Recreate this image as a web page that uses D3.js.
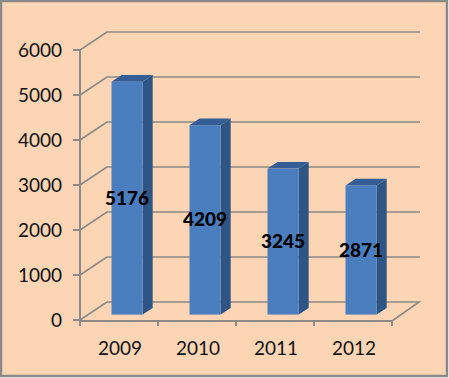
<!DOCTYPE html>
<html><head><meta charset="utf-8">
<script src="https://cdn.jsdelivr.net/npm/d3@7"></script>
<style>html,body{margin:0;padding:0;background:#fff;}svg{display:block;}</style>
</head><body>
<script>
const categories = ["2009","2010","2011","2012"];
const values = [5176, 4209, 3245, 2871];
const yTicks = [0,1000,2000,3000,4000,5000,6000];

const W = 449, H = 378;
const svg = d3.select("body").append("svg").attr("width", W).attr("height", H);
svg.append("rect").attr("x",1).attr("y",1).attr("width",W-3).attr("height",H-3)
  .attr("fill","#FCD5B5").attr("stroke","#8a8a8a").attr("stroke-width",2.5);

const DX = 27, DY = -18;
const y = d3.scaleLinear().domain([0,6000]).range([320,50]);
const x = d3.scaleBand().domain(categories).range([80,392]).paddingInner(0.6).paddingOuter(0.3);
const grid = "#8c8a88";
const font = "Lato, 'Liberation Sans', sans-serif";

yTicks.forEach(v => {
  const yy = y(v);
  if (v > 0) {
    svg.append("line").attr("x1",80+DX).attr("y1",yy+DY).attr("x2",420).attr("y2",yy+DY)
      .attr("stroke",grid).attr("stroke-width",1.6);
  }
  svg.append("line").attr("x1",80).attr("y1",yy).attr("x2",80+DX).attr("y2",yy+DY)
    .attr("stroke",grid).attr("stroke-width",1.6);
});
svg.append("path").attr("d",`M${80+DX},${y(0)+DY}L${392+DX},${y(0)+DY}L392,${y(0)+1}`)
  .attr("fill","none").attr("stroke",grid).attr("stroke-width",1.6);
svg.append("line").attr("x1",80).attr("y1",y(6000)).attr("x2",80).attr("y2",y(0)+1)
  .attr("stroke",grid).attr("stroke-width",2);
svg.append("line").attr("x1",80).attr("y1",y(0)+1).attr("x2",392).attr("y2",y(0)+1)
  .attr("stroke",grid).attr("stroke-width",2);
yTicks.forEach(v => {
  svg.append("line").attr("x1",73).attr("y1",y(v)).attr("x2",80).attr("y2",y(v))
    .attr("stroke",grid).attr("stroke-width",2);
  svg.append("text").attr("x",62).attr("y",y(v)+7).attr("text-anchor","end")
    .attr("font-family",font).attr("font-size",19).attr("fill","#111").text(v);
});
const step = x.step();
[80,80+step,80+2*step,80+3*step,392].forEach(t => {
  svg.append("line").attr("x1",t).attr("y1",y(0)).attr("x2",t).attr("y2",y(0)+6)
    .attr("stroke",grid).attr("stroke-width",2);
});
categories.forEach(c => {
  svg.append("text").attr("x",x(c)+x.bandwidth()/2+1).attr("y",355).attr("text-anchor","middle")
    .attr("font-family",font).attr("font-size",19).attr("fill","#111").text(c);
});

const t0 = 0.3, t1 = 0.67;
const fx = DX*t0, fy = DY*t0, bx = DX*t1, by = DY*t1;
categories.forEach((c,i) => {
  const v = values[i];
  const x0 = x(c)+fx, x1 = x(c)+x.bandwidth()+fx;
  const yt = y(v)+fy, yb = y(0)+fy;
  const sx = bx-fx, sy = by-fy;
  const g = svg.append("g");
  g.append("path").attr("d",`M${x1},${yt}L${x1+sx},${yt+sy}L${x1+sx},${yb+sy}L${x1},${yb}Z`).attr("fill","#2F5585");
  g.append("path").attr("d",`M${x0},${yt}L${x0+sx},${yt+sy}L${x1+sx},${yt+sy}L${x1},${yt}Z`).attr("fill","#345E95");
  g.append("rect").attr("x",x0).attr("y",yt).attr("width",x1-x0).attr("height",yb-yt).attr("fill","#4A7EBF");
  svg.append("text").attr("x",(x0+x1)/2).attr("y",y(v/2)+fy+6.5).attr("text-anchor","middle")
    .attr("font-family",font).attr("font-weight","900").attr("font-size",19).attr("fill","#000").text(v);
});
</script>
</body></html>
